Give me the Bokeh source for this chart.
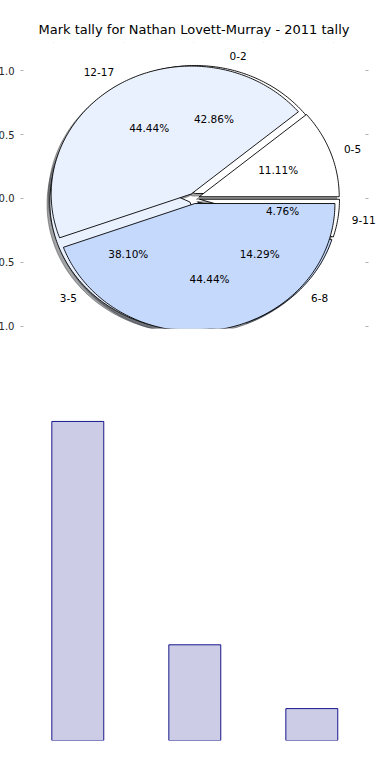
import numpy as np
from bokeh.plotting import figure
from bokeh.layouts import column
from bokeh.models import ColumnDataSource, LabelSet, LinearAxis, FixedTicker, Range1d
from bokeh.core.properties import value
from bokeh.embed import file_html
from bokeh.resources import INLINE

# ---------------- data ----------------
title_text = "Mark tally for Nathan Lovett-Murray - 2011 tally"

# first pie (drawn underneath)
pie_b_labels = ["0-2", "3-5", "6-8", "9-11"]
pie_b_values = [9, 8, 3, 1]

# second pie (drawn on top)
pie_a_labels = ["0-5", "12-17", ""]
pie_a_values = [1, 4, 4]

# bar chart
bar_positions = [0, 1, 2]
bar_values = [10, 3, 1]

axis_ticks = [-1.0, -0.5, 0.0, 0.5, 1.0]

# ---------------- styles ----------------
wedge_colors = ["#ffffff", "#eaf1fe", "#c5d9fc"]
EXPLODE = 0.04
FONT = "DejaVu Sans"
LEFT_PANEL = 37


def hex_to_rgb(h):
    h = h.lstrip("#")
    return tuple(int(h[i:i + 2], 16) for i in (0, 2, 4))


def shade(h, f=0.3):
    r, g, b = hex_to_rgb(h)
    return "#%02x%02x%02x" % (int(r * f), int(g * f), int(b * f))


def pie_geometry(values, labels, explode=EXPLODE):
    vals = np.asarray(values, dtype=float)
    frac = vals / vals.sum()
    xs, ys, cols, lx, ly, lal, px, py, pt = [], [], [], [], [], [], [], [], []
    t1 = 0.0
    for i, f in enumerate(frac):
        t2 = t1 + 360.0 * f
        tm = np.deg2rad((t1 + t2) / 2)
        cx, cy = explode * np.cos(tm), explode * np.sin(tm)
        th = np.deg2rad(np.linspace(t1, t2, max(int(abs(t2 - t1)) + 2, 3)))
        xs.append(np.concatenate([[cx], cx + np.cos(th), [cx]]))
        ys.append(np.concatenate([[cy], cy + np.sin(th), [cy]]))
        cols.append(wedge_colors[i % len(wedge_colors)])
        x_l, y_l = cx + 1.1 * np.cos(tm), cy + 1.1 * np.sin(tm)
        lx.append(x_l); ly.append(y_l)
        lal.append("left" if x_l > 0 else "right")
        px.append(cx + 0.6 * np.cos(tm)); py.append(cy + 0.6 * np.sin(tm))
        pt.append("%1.2f%%" % (f * 100))
        t1 = t2
    return dict(xs=xs, ys=ys, color=cols, lx=lx, ly=ly, align=lal,
                label=list(labels), px=px, py=py, pct=pt)


geo_b = pie_geometry(pie_b_values, pie_b_labels)
geo_a = pie_geometry(pie_a_values, pie_a_labels)

# ---------------- pie figure ----------------
X0, X1 = -1.2176, 1.3467
Y0, Y1 = -1.016, 1.219
RIGHT_TICKS_AT = 1.2286
p1 = figure(frame_width=359, frame_height=286,
            x_range=Range1d(X0, X1), y_range=Range1d(Y0, Y1),
            x_axis_type=None, y_axis_type=None,
            output_backend="svg", toolbar_location=None,
            min_border_left=0, min_border_right=0,
            min_border_top=42, min_border_bottom=12)
p1.outline_line_color = None
p1.background_fill_color = "white"
p1.border_fill_color = "white"

p1.title.text = title_text
p1.title.align = "left"
p1.title.offset = 15
p1.title.vertical_align = "middle"
p1.title.text_font = FONT
p1.title.text_font_size = "13px"
p1.title.text_font_style = "normal"
p1.title.text_color = "#000000"
p1.title.standoff = 9

overrides = {t: ("%.1f" % t).replace("-", "\u2212") for t in axis_ticks}
tick_color = "#b0b0b0"

left = LinearAxis(ticker=FixedTicker(ticks=axis_ticks))
left.axis_line_color = None
left.major_tick_line_color = tick_color
left.major_tick_in = 0
left.major_tick_out = 3
left.minor_tick_line_color = None
left.major_label_overrides = overrides
left.major_label_text_font = FONT
left.major_label_text_font_size = "10px"
left.major_label_text_color = "#262626"
left.major_label_standoff = 6
p1.add_layout(left, "left")

# top and right: tick marks only (minor ticks carry no labels)
for loc, fixed in (("above", Y1), ("right", RIGHT_TICKS_AT)):
    ax = LinearAxis(ticker=FixedTicker(ticks=[], minor_ticks=axis_ticks),
                    fixed_location=fixed)
    ax.axis_line_color = None
    ax.major_tick_line_color = None
    ax.minor_tick_line_color = tick_color
    ax.minor_tick_in = 0
    ax.minor_tick_out = 3
    ax.major_label_text_font_size = "10px"
    p1.add_layout(ax, loc)

# shadows (both pies), then pie B wedges, then pie A wedges
for geo in (geo_b, geo_a):
    sx = [x - 0.02 for x in geo["xs"]]
    sy = [y - 0.02 for y in geo["ys"]]
    sc = [shade(c) for c in geo["color"]]
    p1.patches(xs=sx, ys=sy, fill_color=sc, line_color=sc,
               fill_alpha=0.5, line_alpha=0.5, line_width=1)
for geo in (geo_b, geo_a):
    src = ColumnDataSource(dict(xs=geo["xs"], ys=geo["ys"], color=geo["color"]))
    p1.patches(xs="xs", ys="ys", fill_color="color", line_color="black",
               line_width=0.9, source=src)

for geo in (geo_b, geo_a):
    src = ColumnDataSource(dict(lx=geo["lx"], ly=geo["ly"], label=geo["label"],
                                align=geo["align"], px=geo["px"], py=geo["py"],
                                pct=geo["pct"]))
    p1.add_layout(LabelSet(x="lx", y="ly", text="label", source=src,
                           text_align="align", text_baseline="middle",
                           text_font=value(FONT), text_font_size="10.5px",
                           text_color="black"))
    p1.add_layout(LabelSet(x="px", y="py", text="pct", source=src,
                           text_align="center", text_baseline="middle",
                           text_font=value(FONT), text_font_size="10.5px",
                           text_color="black"))

# ---------------- bar figure ----------------
p2 = figure(frame_width=344, frame_height=335,
            x_range=Range1d(-0.464, 2.476), y_range=Range1d(0, 10.5),
            x_axis_type=None, y_axis_type=None,
            output_backend="svg", toolbar_location=None,
            min_border_left=LEFT_PANEL, min_border_right=15,
            min_border_top=65, min_border_bottom=38)
p2.outline_line_color = None
p2.background_fill_color = "white"
p2.border_fill_color = "white"
p2.vbar(x=bar_positions, top=bar_values, bottom=0, width=0.444,
        fill_color="navy", fill_alpha=0.2, line_color="navy", line_alpha=0.9,
        line_width=1)

layout = column(p1, p2, margin=(0, 0, 0, 23 - LEFT_PANEL))

with open("out.html", "w") as f:
    f.write(file_html(layout, INLINE, title="Mark tally"))
